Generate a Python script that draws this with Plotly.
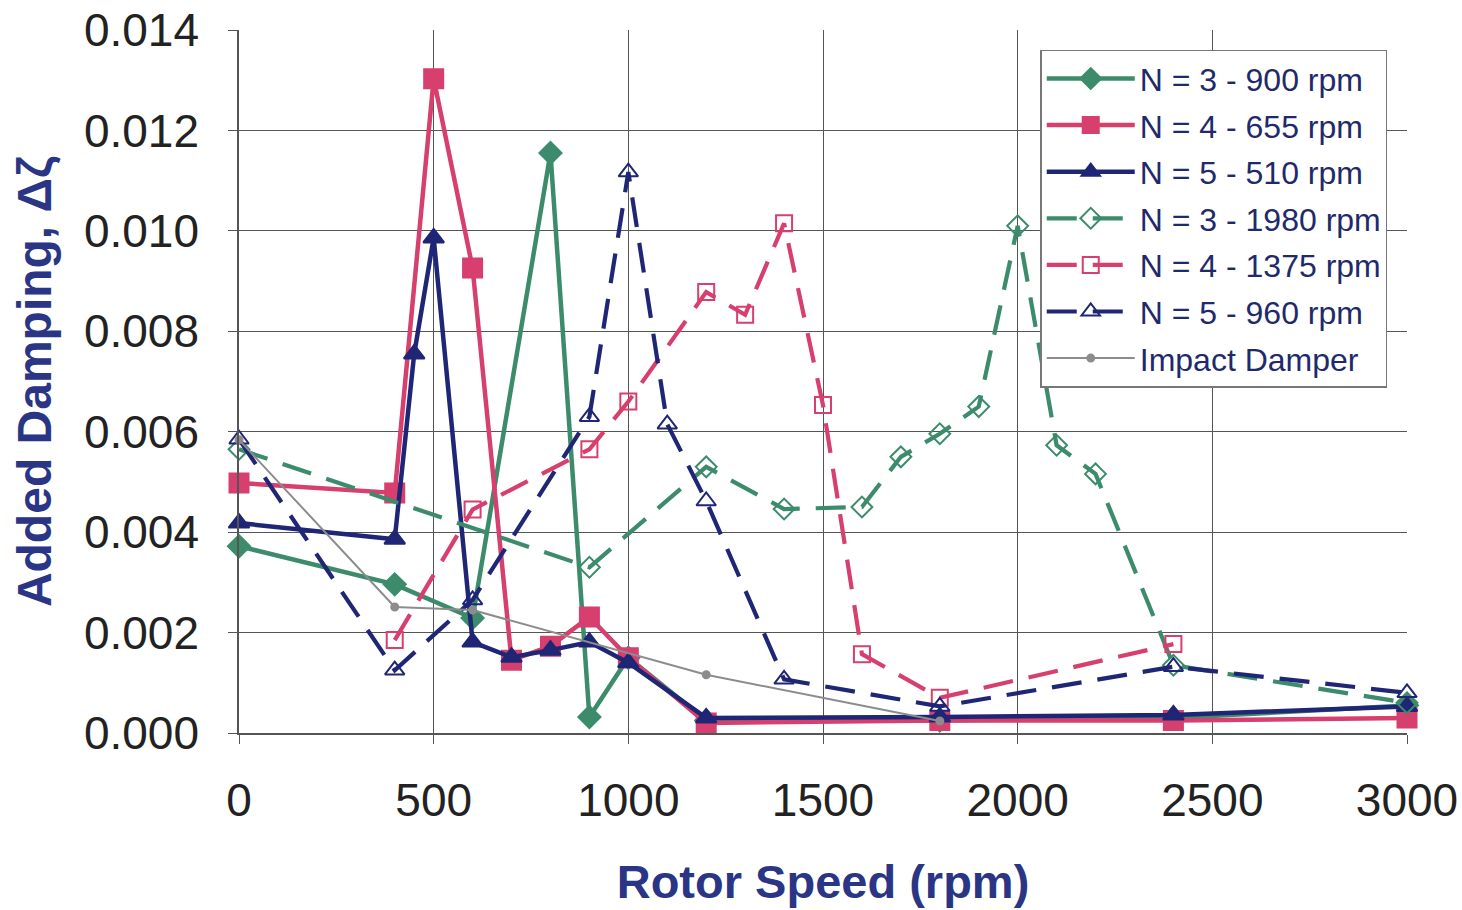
import plotly.graph_objects as go

# ---- data ----
x_n3_900 = [0, 400, 600, 800, 900, 1000, 1200, 1800, 2400, 3000]
y_n3_900 = [0.00372, 0.00296, 0.00229, 0.01155, 0.00032, 0.00150, 0.00025, 0.00025, 0.00030, 0.00055]

x_n4_655 = [0, 400, 500, 600, 700, 800, 900, 1000, 1200, 1800, 2400, 3000]
y_n4_655 = [0.00498, 0.00478, 0.01303, 0.00926, 0.00145, 0.00173, 0.00231, 0.00150, 0.00020, 0.00025, 0.00025, 0.00030]

x_n5_510 = [0, 400, 450, 500, 600, 700, 800, 900, 1000, 1200, 1800, 2400, 3000]
y_n5_510 = [0.00418, 0.00386, 0.00755, 0.00986, 0.00181, 0.00151, 0.00165, 0.00181, 0.00140, 0.00030, 0.00032, 0.00036, 0.00053]

x_n3_1980 = [0, 900, 1200, 1400, 1600, 1700, 1800, 1900, 2000, 2100, 2200, 2400, 3000]
y_n3_1980 = [0.00565, 0.00330, 0.00530, 0.00446, 0.00450, 0.00550, 0.00596, 0.00650, 0.01010, 0.00573, 0.00516, 0.00135, 0.00060]

x_n4_1375 = [400, 600, 900, 1000, 1200, 1300, 1400, 1500, 1600, 1800, 2400]
y_n4_1375 = [0.00185, 0.00445, 0.00565, 0.00660, 0.00878, 0.00833, 0.01015, 0.00653, 0.00157, 0.00070, 0.00177]

x_n5_960 = [0, 400, 600, 900, 1000, 1100, 1200, 1400, 1800, 2400, 3000]
y_n5_960 = [0.00585, 0.00125, 0.00265, 0.00630, 0.01117, 0.00615, 0.00462, 0.00107, 0.00053, 0.00132, 0.00080]

x_impact = [0, 400, 600, 1200, 1800]
y_impact = [0.00584, 0.00251, 0.00245, 0.00116, 0.00024]

names = ["N = 3 - 900 rpm", "N = 4 - 655 rpm", "N = 5 - 510 rpm",
         "N = 3 - 1980 rpm", "N = 4 - 1375 rpm", "N = 5 - 960 rpm", "Impact Damper"]

x_ticks = [0, 500, 1000, 1500, 2000, 2500, 3000]
y_ticks = [0.000, 0.002, 0.004, 0.006, 0.008, 0.010, 0.012, 0.014]

# ---- styles ----
GREEN = "#3c8c6c"
RED = "#d63f6e"
NAVY = "#1f2675"
GRAY = "#8c8c8c"
TITLE = "#2a3585"
DASH = "30px,16px"

fig = go.Figure()

def add(x, y, name, color, symbol, size, dash="solid", width=4.5):
    fig.add_trace(go.Scatter(
        x=x, y=y, name=name, mode="lines+markers", legendgroup=name,
        line=dict(color=color, width=width, dash=dash),
        marker=dict(symbol=symbol, size=size, color=color,
                    line=dict(color=color, width=2)),
        cliponaxis=False,
    ))

add(x_n3_900, y_n3_900, names[0], GREEN, "diamond", 17)
add(x_n4_655, y_n4_655, names[1], RED, "square", 19)
add(x_n5_510, y_n5_510, names[2], NAVY, "triangle-up", 18)
add(x_n3_1980, y_n3_1980, names[3], GREEN, "diamond-open", 16, DASH, 4.2)
add(x_n4_1375, y_n4_1375, names[4], RED, "square-open", 16, DASH, 4.2)
add(x_n5_960, y_n5_960, names[5], NAVY, "triangle-up-open", 17, DASH, 4.2)
add(x_impact, y_impact, names[6], GRAY, "circle", 7, "solid", 2)

axis_common = dict(
    showgrid=True, gridcolor="#555555", gridwidth=1.3,
    showline=True, linecolor="#555555", linewidth=1.5,
    ticks="outside", ticklen=9, tickcolor="#555555", tickwidth=1.3,
    zeroline=False, mirror=False, ticklabeloverflow="allow", automargin=False,
    tickfont=dict(family="Arial, Liberation Sans, sans-serif", size=46, color="#222222"),
)

fig.update_layout(
    width=1462, height=910,
    margin=dict(l=239, r=55, t=30, b=177),
    paper_bgcolor="white", plot_bgcolor="white",
    font=dict(family="Arial, Liberation Sans, sans-serif"),
    xaxis=dict(
        range=[0, 3000], tickvals=x_ticks, ticktext=[str(v) for v in x_ticks],
        ticklabelstandoff=17,
        title=dict(text="<b>Rotor Speed (rpm)</b>", standoff=40,
                   font=dict(size=47, color=TITLE)),
        **axis_common,
    ),
    yaxis=dict(
        range=[0, 0.014], tickvals=y_ticks, ticktext=[f"{v:.3f}" for v in y_ticks],
        ticklabelstandoff=20,
        title=dict(text="<b>Added Damping, Δζ</b>", standoff=17,
                   font=dict(size=48, color=TITLE)),
        **axis_common,
    ),
    legend=dict(
        x=0.686, y=0.972, xanchor="left", yanchor="top",
        bgcolor="white", bordercolor="#777777", borderwidth=1.5,
        font=dict(size=32, color="#1f2a6b"),
        itemwidth=88, tracegroupgap=2,
    ),
    showlegend=True,
)

fig.write_html(
    "out.html",
    config={"displayModeBar": False},
    post_script="document.body.style.margin='0';document.body.style.overflow='hidden';",
)
